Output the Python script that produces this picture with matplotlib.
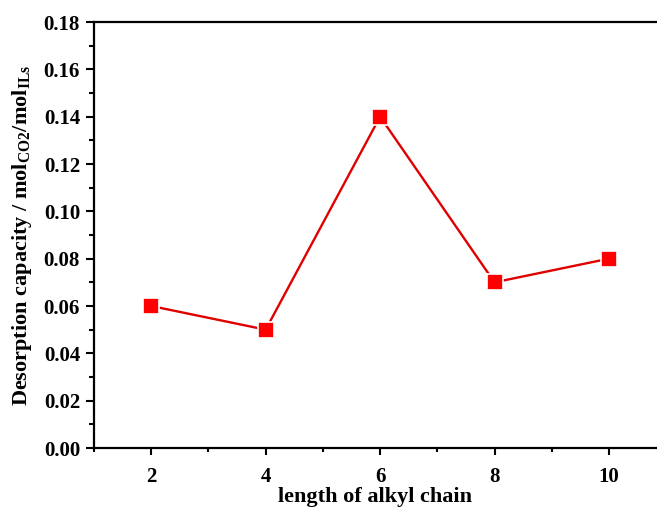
import matplotlib.pyplot as plt
from matplotlib.ticker import MultipleLocator

plt.rcParams['font.family'] = ['Liberation Serif', 'DejaVu Serif']
plt.rcParams['font.weight'] = 'bold'
plt.rcParams['mathtext.fontset'] = 'custom'
plt.rcParams['mathtext.rm'] = 'Liberation Serif:bold'
plt.rcParams['mathtext.bf'] = 'Liberation Serif:bold'

chain_length = [2, 4, 6, 8, 10]
desorption = [0.06, 0.05, 0.14, 0.07, 0.08]

fig = plt.figure(figsize=(6.57, 5.13), dpi=100)
ax = fig.add_axes([94 / 657, 65 / 513, 1 - 94 / 657, (448 - 22) / 513])

ax.plot(chain_length, desorption, color='#e00000', lw=1.7, marker='s',
        markersize=11.5, markerfacecolor='#ff0000', markeredgecolor='white',
        markeredgewidth=1.2)

ax.set_xlim(1, 10.84)
ax.set_ylim(0, 0.18)
ax.xaxis.set_major_locator(MultipleLocator(2))
ax.xaxis.set_minor_locator(MultipleLocator(1))
ax.yaxis.set_major_locator(MultipleLocator(0.02))
ax.yaxis.set_minor_locator(MultipleLocator(0.01))
ax.yaxis.set_major_formatter(plt.FormatStrFormatter('%.2f'))

ax.spines['right'].set_visible(False)
for s in ['left', 'bottom', 'top']:
    ax.spines[s].set_linewidth(1.6)
ax.tick_params(which='major', direction='out', length=6, width=1.5,
               labelsize=15, pad=4)
ax.tick_params(which='minor', direction='out', length=3.5, width=1.5)
ax.tick_params(axis='x', which='major', length=5, pad=9)
ax.tick_params(axis='x', which='minor', length=3)

ax.set_xlabel('length of alkyl chain', fontsize=16, fontweight='bold', labelpad=0)
ax.set_ylabel(r'Desorption capacity / mol$_{\mathrm{CO2}}$/mol$_{\mathrm{ILs}}$',
              fontsize=16, fontweight='bold', labelpad=7)

fig.savefig('out.png', dpi=100)
